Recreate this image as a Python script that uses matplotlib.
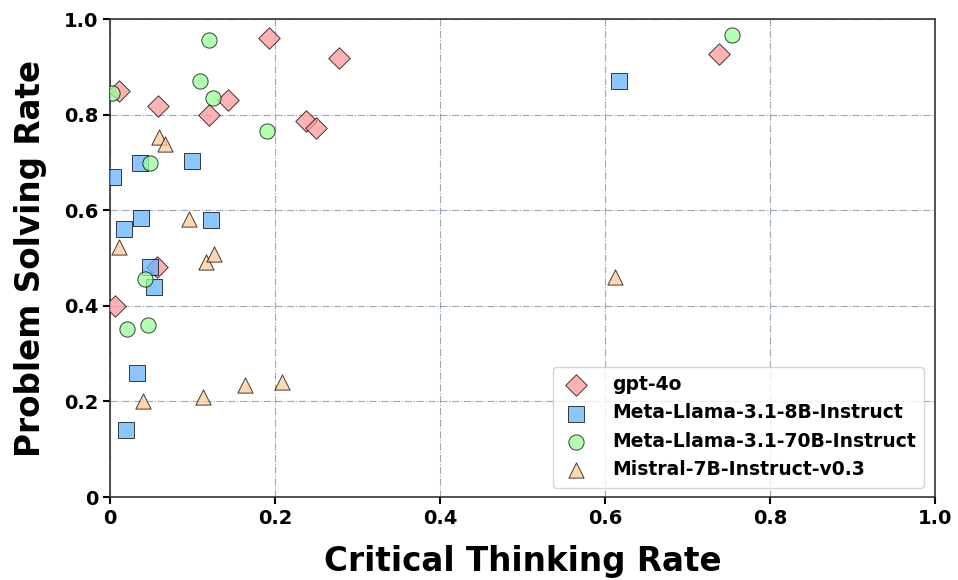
import matplotlib.pyplot as plt

models = ["gpt-4o", "Meta-Llama-3.1-8B-Instruct", "Meta-Llama-3.1-70B-Instruct", "Mistral-7B-Instruct-v0.3"]
markers = ["D", "s", "o", "^"]
colors = ["#ff9999", "#66b3ff", "#99ff99", "#ffcc99"]

gpt_x = [0.011, 0.058, 0.006, 0.057, 0.120, 0.143, 0.193, 0.238, 0.250, 0.278, 0.738]
gpt_y = [0.849, 0.818, 0.400, 0.481, 0.799, 0.831, 0.961, 0.787, 0.773, 0.918, 0.928]

l8_x = [0.004, 0.017, 0.036, 0.037, 0.049, 0.053, 0.033, 0.019, 0.100, 0.123, 0.617]
l8_y = [0.669, 0.560, 0.699, 0.583, 0.482, 0.440, 0.259, 0.140, 0.703, 0.579, 0.870]

l70_x = [0.002, 0.048, 0.120, 0.109, 0.125, 0.190, 0.042, 0.021, 0.046, 0.754]
l70_y = [0.845, 0.698, 0.956, 0.870, 0.836, 0.766, 0.457, 0.351, 0.359, 0.967]

mis_x = [0.060, 0.067, 0.011, 0.096, 0.116, 0.126, 0.040, 0.113, 0.164, 0.208, 0.612]
mis_y = [0.753, 0.738, 0.524, 0.581, 0.491, 0.508, 0.201, 0.209, 0.234, 0.240, 0.461]

xs = [gpt_x, l8_x, l70_x, mis_x]
ys = [gpt_y, l8_y, l70_y, mis_y]

ticks = [0, 0.2, 0.4, 0.6, 0.8, 1.0]
tick_labels = ["0", "0.2", "0.4", "0.6", "0.8", "1.0"]

fig = plt.figure(figsize=(9.58, 5.8), dpi=100)
ax = fig.add_axes([0.1148, 0.143, 0.8612, 0.824])

for i in range(len(models)):
    ax.scatter(xs[i], ys[i], s=120, marker=markers[i], c=colors[i],
               edgecolors="black", linewidths=0.7, alpha=0.75, label=models[i], zorder=3)

ax.set_xlim(0, 1)
ax.set_ylim(0, 1)
ax.set_xticks(ticks)
ax.set_xticklabels(tick_labels, fontsize=14, fontweight="bold")
ax.set_yticks(ticks)
ax.set_yticklabels(tick_labels, fontsize=14, fontweight="bold")
ax.tick_params(width=1.5, length=5)

ax.grid(True, linestyle="-.", color="#7f93a8", linewidth=0.8, alpha=0.8)
ax.set_axisbelow(True)
for sp in ax.spines.values():
    sp.set_color("#333333")
    sp.set_linewidth(1.2)

ax.set_xlabel("Critical Thinking Rate", fontsize=23.5, fontweight="bold", labelpad=12)
ax.set_ylabel("Problem Solving Rate", fontsize=23.5, fontweight="bold", labelpad=12)

ax.legend(loc="lower right", prop={"weight": "bold", "size": 13.5}, framealpha=0.8,
          borderpad=0.45, handlelength=1.6, handletextpad=1.1,
          bbox_to_anchor=(0.998, 0.0))

plt.savefig("out.png", dpi=100)
